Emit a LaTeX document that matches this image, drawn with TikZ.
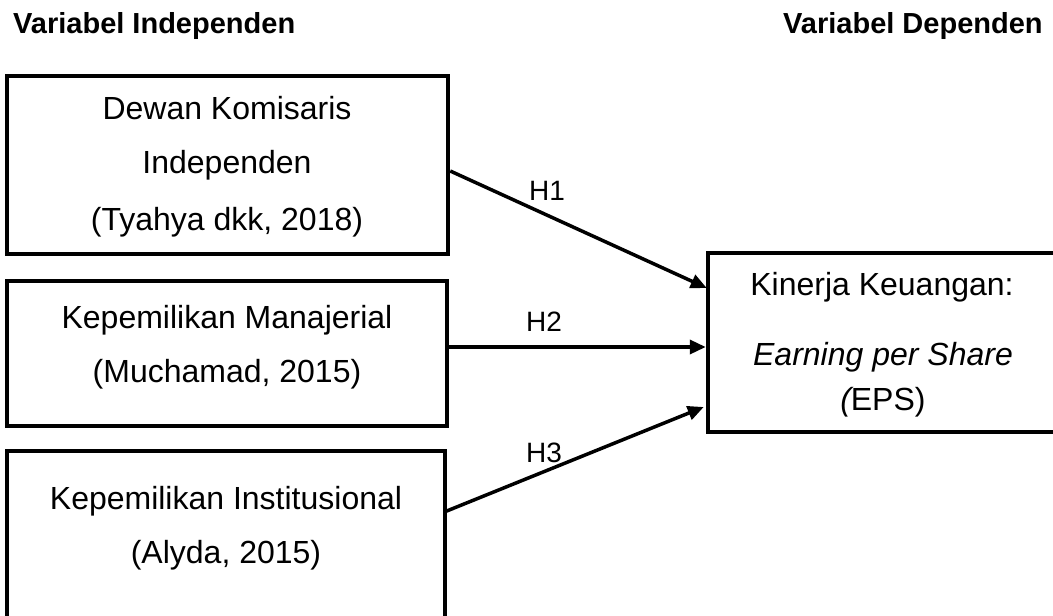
\documentclass[tikz,border=0pt]{standalone}
\usepackage{fontspec}
\setmainfont{Liberation Sans}
\usetikzlibrary{arrows.meta}
\begin{document}
\begin{tikzpicture}[x=1pt,y=-1pt,
  box/.style={draw=black, line width=4.5pt, rectangle, inner sep=0pt},
  txt/.style={anchor=base, inner sep=0pt, font=\fontsize{32}{38}\selectfont},
  head/.style={anchor=base west, inner sep=0pt, font=\fontsize{29}{34}\selectfont\bfseries},
  hyp/.style={anchor=base, inner sep=0pt, font=\fontsize{28}{32}\selectfont},
  conn/.style={line width=3.5pt, -{Triangle[length=16pt,width=14pt]}}]
\useasboundingbox (0,0) rectangle (1053,616);
% headers
\node[head] (hind) at (13,33) {Variabel Independen};
\node[head] (hdep) at (783,33) {Variabel Dependen};
% boxes
\node[box, minimum width=441pt, minimum height=178pt] (b1) at (227.5,165) {};
\node[box, minimum width=440pt, minimum height=145pt] (b2) at (227,353.5) {};
\node[box, minimum width=438pt, minimum height=200pt] (b3) at (226,551) {};
\node[box, minimum width=348pt, minimum height=179pt] (eps) at (882,342.5) {};
% box texts
\node[txt] (t11) at (227,119) {Dewan Komisaris};
\node[txt] (t12) at (227,173) {Independen};
\node[txt] (t13) at (227,230) {(Tyahya dkk, 2018)};
\node[txt] (t21) at (227,328) {Kepemilikan Manajerial};
\node[txt] (t22) at (227,382) {(Muchamad, 2015)};
\node[txt] (t31) at (226,509) {Kepemilikan Institusional};
\node[txt] (t32) at (226,563) {(Alyda, 2015)};
\node[txt] (t41) at (882,295) {Kinerja Keuangan:};
\node[txt] (t42) at (883,365) {\itshape Earning per Share};
\node[txt] (t43) at (883,410) {\textit{(}\kern-3pt EPS)};
% connectors
\draw[conn] ([yshift=-6pt]b1.east) -- ([xshift=1pt,yshift=54.5pt]eps.west);
\draw[conn] ([yshift=6.5pt]b2.east) -- ([yshift=-4.5pt]eps.west);
\draw[conn] ([xshift=-3pt,yshift=39pt]b3.east) -- ([xshift=-2pt,yshift=-64.5pt]eps.west);
% labels
\node[hyp] (h1) at (547,200) {H1};
\node[hyp] (h2) at (544,331) {H2};
\node[hyp] (h3) at (544,462) {H3};
\end{tikzpicture}
\end{document}
